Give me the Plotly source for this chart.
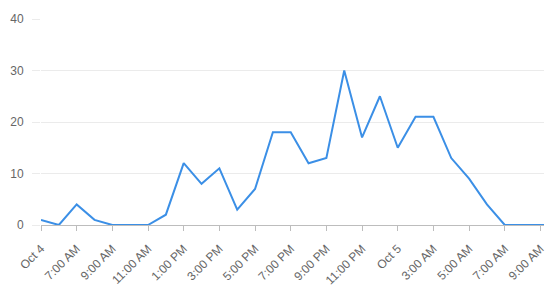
import plotly.graph_objects as go
import pandas as pd

times = list(pd.date_range("2023-10-04 05:00", "2023-10-05 09:00", freq="h")) + [pd.Timestamp("2023-10-05 09:12")]
values = [1, 0, 4, 1, 0, 0, 0, 2, 12, 8, 11, 3, 7, 18, 18, 12, 13, 30, 17,
          25, 15, 21, 21, 13, 9, 4, 0, 0, 0, 0]

tick_vals = list(pd.date_range("2023-10-04 05:00", "2023-10-05 09:00", freq="2h"))
tick_text = ["Oct 4", "7:00 AM", "9:00 AM", "11:00 AM", "1:00 PM", "3:00 PM", "5:00 PM",
             "7:00 PM", "9:00 PM", "11:00 PM", "Oct 5", "3:00 AM", "5:00 AM", "7:00 AM", "9:00 AM"]
y_ticks = [0, 10, 20, 30, 40]

fig = go.Figure(go.Scatter(
    x=times, y=values, mode="lines",
    line=dict(color="#3b8fe6", width=2),
))

fig.update_layout(
    width=557, height=289,
    margin=dict(l=41, r=13, t=19, b=64),
    paper_bgcolor="white", plot_bgcolor="white",
    font=dict(family="Liberation Sans, Arial, sans-serif", size=12, color="#666666"),
    showlegend=False,
)
fig.update_xaxes(
    range=[times[0], times[-1]], automargin=False,
    tickvals=tick_vals, ticktext=tick_text, tickangle=-45,
    showgrid=False, showline=True, linecolor="#bdbdbd", linewidth=1,
    ticks="outside", ticklen=5, tickcolor="#bdbdbd",
    ticklabelstandoff=6,
    zeroline=False,
)
fig.update_yaxes(
    range=[0, 40], tickvals=y_ticks, automargin=False,
    showgrid=True, gridcolor="#ebebeb", gridwidth=1,
    showline=False, zeroline=False,
    ticks="outside", ticklen=8, tickcolor="#ebebeb",
    ticklabelstandoff=6,
)

fig.write_html("out.html")
